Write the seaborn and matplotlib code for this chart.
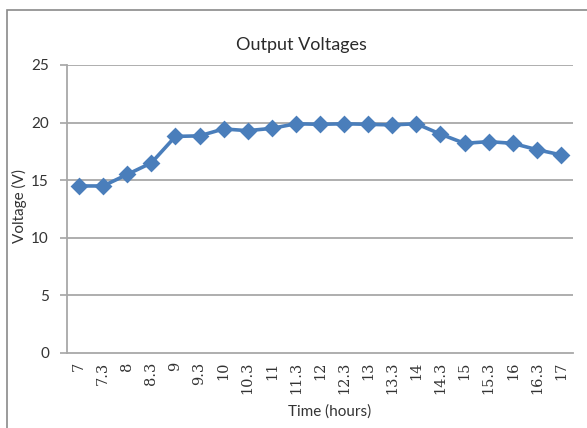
import matplotlib
matplotlib.use("Agg")
import matplotlib.pyplot as plt
import seaborn as sns
import pandas as pd
from matplotlib.patches import Rectangle

# Sampling times (hours) and measured output voltage
times = ["7", "7.3", "8", "8.3", "9", "9.3", "10", "10.3", "11", "11.3", "12",
         "12.3", "13", "13.3", "14", "14.3", "15", "15.3", "16", "16.3", "17"]
voltages = [14.5, 14.5, 15.5, 16.5, 18.8, 18.85, 19.45, 19.3, 19.5, 19.9, 19.85,
            19.9, 19.85, 19.8, 19.9, 19.0, 18.2, 18.35, 18.2, 17.65, 17.2]
y_ticks = [0, 5, 10, 15, 20, 25]

df = pd.DataFrame({"time": times, "voltage": voltages})

sns.set_theme(style="white")
plt.rcParams["font.family"] = ["Lato", "DejaVu Sans"]

W, H = 587, 428
fig = plt.figure(figsize=(W / 100, H / 100), dpi=100)
fig.patch.set_facecolor("white")

# chart frame
fig.patches.append(Rectangle((7 / W, -0.05), 1.0, 1 - 10 / H + 0.05,
                             transform=fig.transFigure, fill=False,
                             edgecolor="#8a8a8a", linewidth=1.2))

ax = fig.add_axes([67 / W, 1 - 353 / H, (573 - 67) / W, (353 - 65) / H])
ax.set_facecolor("white")

blue = "#4A7EBB"
sns.pointplot(data=df, x="time", y="voltage", ax=ax, color=blue,
              markers="D", linestyles="-", errorbar=None,
              markersize=7.5, linewidth=2.6)

ax.set_xlim(-0.5, len(times) - 0.5)
ax.set_ylim(0, 25)
ax.set_yticks(y_ticks)
ax.set_yticklabels([str(v) for v in y_ticks], fontsize=11, color="#333333")

for v in y_ticks[1:]:
    ax.axhline(v, color="#a8a8a8", linewidth=1.3, zorder=0)

for s in ["top", "right"]:
    ax.spines[s].set_visible(False)
ax.spines["left"].set_color("#a8a8a8")
ax.spines["bottom"].set_color("#a8a8a8")
ax.spines["left"].set_linewidth(1.3)
ax.spines["bottom"].set_linewidth(1.3)

ax.tick_params(axis="y", length=5, color="#a8a8a8", pad=8, left=True)
ax.tick_params(axis="x", length=0, pad=6)
ax.set_xticks(range(len(times)))
ax.set_xticklabels(times, rotation=90, ha="center", va="top",
                   fontsize=10.5, family="DejaVu Serif", color="#333333")
ax.set_xlabel("")
ax.set_ylabel("")

fig.text(330 / W, 1 - 412 / H, "Time (hours)", ha="center", va="center",
         fontsize=11, color="#333333")
fig.text(19 / W, 1 - 206 / H, "Voltage (V)", ha="center", va="center",
         rotation=90, fontsize=11, color="#333333")
fig.text(301 / W, 1 - 45 / H, "Output Voltages", ha="center", va="center",
         fontsize=13, color="#2a2a2a")

fig.savefig("out.png", dpi=100, facecolor="white")
